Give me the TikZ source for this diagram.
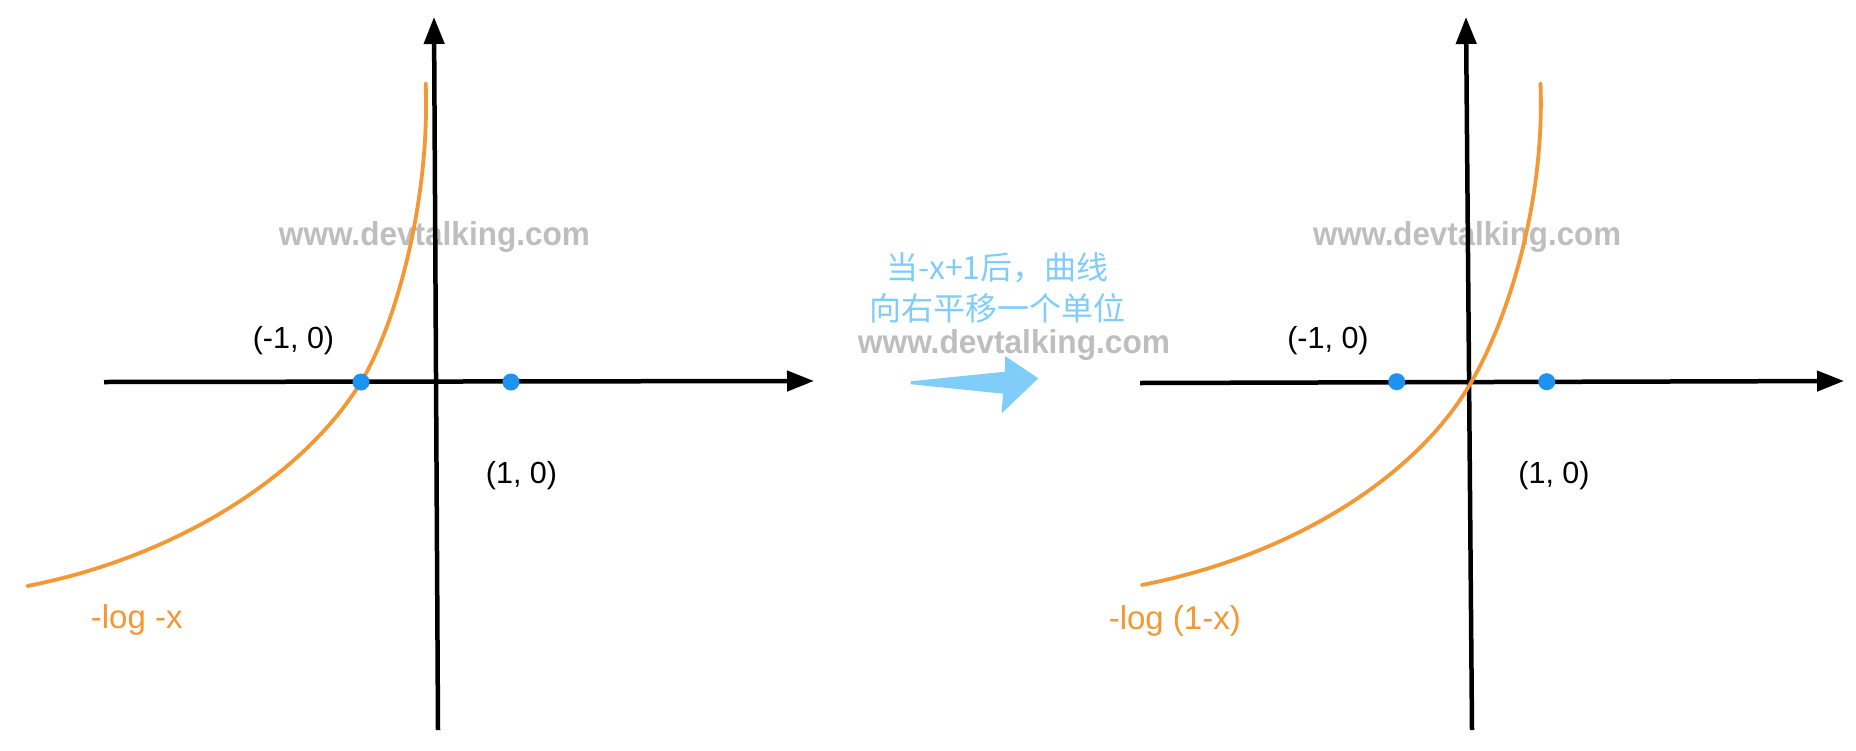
\documentclass[tikz,border=0pt]{standalone}
\usepackage{fontspec}
\usepackage{graphicx}
\setmainfont{Liberation Sans}
\newfontfamily\cjk{Noto Sans CJK SC}
\newfontfamily\wmfont{Liberation Sans}
\usetikzlibrary{arrows.meta}
\definecolor{curveorange}{RGB}{243,152,52}
\definecolor{dotblue}{RGB}{30,146,240}
\definecolor{skyblue}{RGB}{128,205,250}
\definecolor{wmgray}{RGB}{190,190,190}
\tikzset{
  axisline/.style={line width=4.5pt,-{Triangle[length=27pt,width=20pt]}},
  curveline/.style={curveorange,line width=3.8pt,line cap=round},
  dotmark/.style={circle,fill=dotblue,inner sep=0pt,minimum size=17pt},
  wm/.style={wmgray,inner sep=0pt,font=\wmfont\bfseries},
  lbl/.style={inner sep=0pt,font=\fontsize{30.5}{36}\selectfont},
  olbl/.style={inner sep=0pt,curveorange,font=\fontsize{33}{39}\selectfont},
  cn/.style={inner sep=0pt,skyblue,font=\cjk\fontsize{32}{38}\selectfont}
}
\begin{document}
\begin{tikzpicture}[x=1pt,y=-1pt]
\useasboundingbox[fill=white] (0,0) rectangle (1856,750);

% watermarks
\node[wm,anchor=base] (wmL) at (434.5,245) {\resizebox{311pt}{24pt}{www.devtalking.com}};
\node[wm,anchor=base] (wmM) at (1014,353) {\resizebox{312pt}{24pt}{www.devtalking.com}};
\node[wm,anchor=base] (wmR) at (1467,245) {\resizebox{308pt}{24pt}{www.devtalking.com}};

% ---------- left panel ----------
\coordinate (LxS) at (104,382);
\coordinate (LxE) at (814,381);
\coordinate (LyS) at (438,730);
\coordinate (LyE) at (434,17);
\draw[axisline] (LxS) -- (LxE);
\draw[axisline] (LyS) -- (LyE);
\begin{scope}[shift={(361,382)}]
\draw[curveline] (-333.7,204) .. controls (-183.7,174.75) and (-57.2,93.5) .. (0,0)
  .. controls (33.8,-55.25) and (69.1,-178.7) .. (64.7,-298.7);
\end{scope}
\node[dotmark] (Ld1) at (361,382) {};
\node[dotmark] (Ld2) at (511,382) {};
\node[lbl,anchor=base] (Lm1) at (293.5,348) {(-1, 0)};
\node[lbl,anchor=base] (Lp1) at (521.5,483) {(1, 0)};
\node[olbl,anchor=base west] (Lf) at (90.7,628) {-log -x};

% ---------- middle ----------
\node[cn,anchor=base] (t1) at (997.5,279) {当-x+1后，曲线};
\node[cn,anchor=base] (t2) at (997.5,320) {向右平移一个单位};
\fill[skyblue] (910.7,381.3) -- (1005,371.7) -- (1005,356) -- (1038.3,378.3)
  -- (1001.7,413.3) -- (1003,393.7) -- (910.7,384.2) -- cycle;

% ---------- right panel ----------
\coordinate (RxS) at (1140,383);
\coordinate (RxE) at (1844,381);
\coordinate (RyS) at (1472,730);
\coordinate (RyE) at (1466,17);
\draw[axisline] (RxS) -- (RxE);
\draw[axisline] (RyS) -- (RyE);
\begin{scope}[shift={(1471.5,381.7)}]
\draw[curveline] (-329.7,203.3) .. controls (-180,174) and (-55,95.7) .. (0,0)
  .. controls (36,-62) and (73.5,-178) .. (69,-298.4);
\end{scope}
\node[dotmark] (Rd1) at (1396.7,381.7) {};
\node[dotmark] (Rd2) at (1546.7,381.7) {};
\node[lbl,anchor=base] (Rm1) at (1328,348) {(-1, 0)};
\node[lbl,anchor=base] (Rp1) at (1554,483) {(1, 0)};
\node[olbl,anchor=base west] (Rf) at (1108.6,629) {-log (1-x)};
\end{tikzpicture}
\end{document}
